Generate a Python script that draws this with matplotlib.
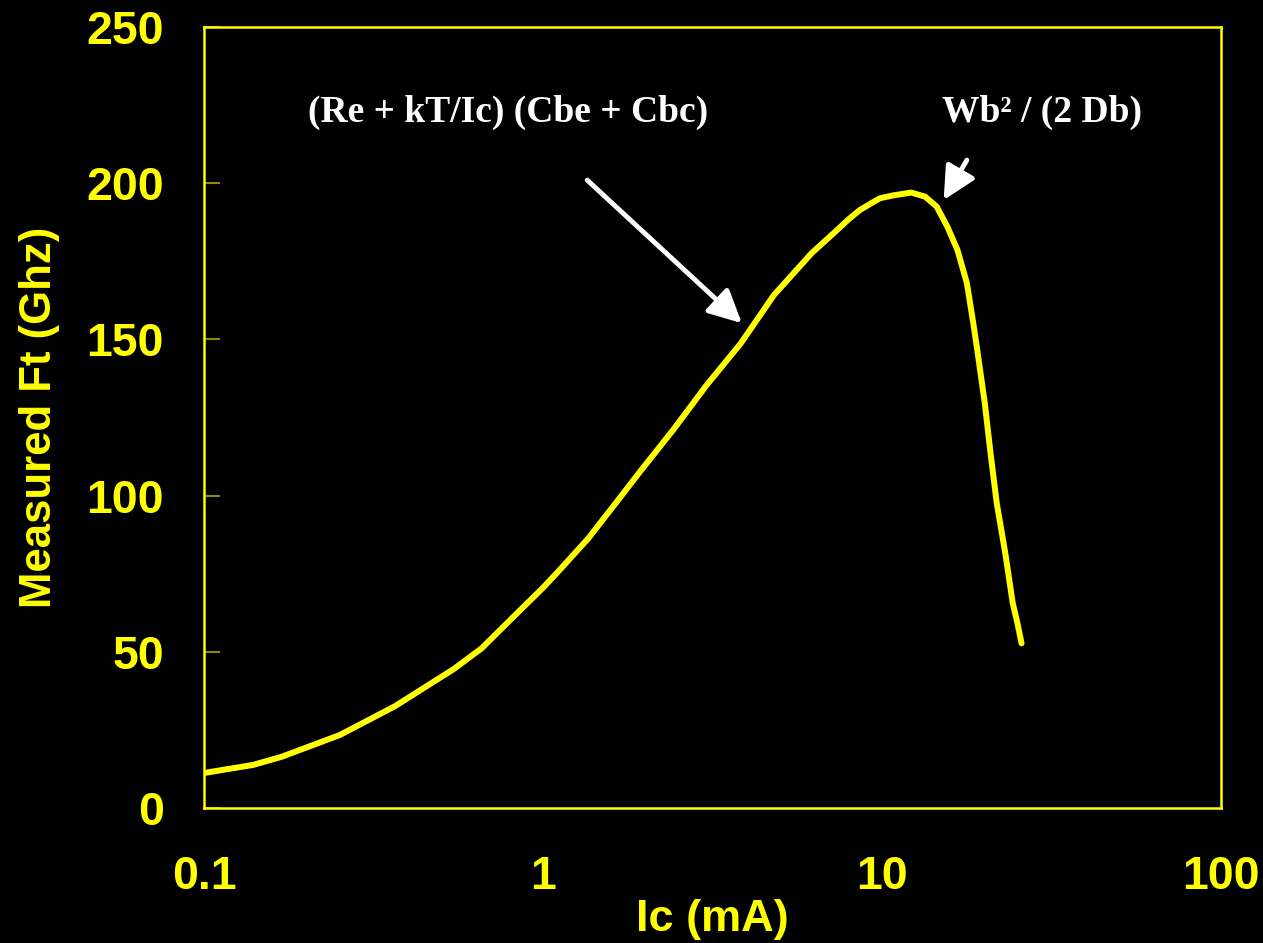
import matplotlib
matplotlib.use("Agg")
import matplotlib.pyplot as plt

# Data
ic_ma = [0.1, 0.1397, 0.1695, 0.252, 0.366, 0.544, 0.659, 0.782, 1.0, 1.12,
         1.36, 1.65, 1.95, 2.42, 3.03, 3.83, 4.8, 6.2, 7.2, 8.0, 8.6, 9.3,
         9.87, 10.8, 12.2, 13.4, 14.5, 15.6, 16.7, 17.8, 18.6, 19.1, 20.1,
         20.9, 21.8, 23.1, 24.3, 25.1, 25.8]
ft_ghz = [11.2, 13.8, 16.4, 23.4, 32.6, 44.4, 51.1, 59.1, 70.5, 76.2,
          86.3, 98.0, 108.2, 121.0, 135.2, 148.7, 164.2, 177.6, 184.0, 188.6,
          191.4, 193.6, 195.2, 196.1, 197.0, 195.7, 192.5, 186.0, 178.6, 168.0,
          155.0, 146.6, 129.6, 113.6, 97.6, 81.6, 65.6, 59.1, 52.7]

x_ticks = [0.1, 1, 10, 100]
x_tick_labels = ["0.1", "1", "10", "100"]
y_ticks = [0, 50, 100, 150, 200, 250]
y_tick_labels = ["0", "50", "100", "150", "200", "250"]

ann1_text = "(Re + kT/Ic) (Cbe + Cbc)"
ann1_xy = (3.86, 155.2)
ann1_from = (1.35, 201.0)
ann2_text = "Wb\u00b2 / (2 Db)"
ann2_xy = (15.2, 194.6)
ann2_from = (17.8, 207.4)

YEL = "#ffff00"
TICKC = "#8c8c00"

fig = plt.figure(figsize=(12.63, 9.43), dpi=100, facecolor="black")
ax = fig.add_axes([204 / 1263, 1 - 808 / 943, (1221 - 204) / 1263, (808 - 27) / 943])
ax.set_facecolor("black")

ax.plot(ic_ma, ft_ghz, color=YEL, lw=4.3, solid_capstyle="round", solid_joinstyle="round")

ax.set_xscale("log")
ax.set_xlim(0.1, 100)
ax.set_ylim(0, 250)
ax.set_xticks(x_ticks)
ax.set_xticklabels(x_tick_labels)
ax.set_yticks(y_ticks)
ax.set_yticklabels(y_tick_labels)
ax.minorticks_off()

font = "Liberation Sans"
for lab in ax.get_xticklabels() + ax.get_yticklabels():
    lab.set_fontfamily(font)
    lab.set_fontweight("bold")
    lab.set_fontsize(33.5)
    lab.set_color(YEL)

ax.tick_params(axis="y", direction="in", length=11.5, width=1.5, color=TICKC, pad=29)
ax.tick_params(axis="x", direction="in", length=0, pad=34)

for sp in ax.spines.values():
    sp.set_color(YEL)
    sp.set_linewidth(1.8)

ax.set_xlabel("Ic (mA)", fontfamily=font, fontweight="bold", fontsize=32.5, color=YEL, labelpad=0)
ax.set_ylabel("Measured Ft (Ghz)", fontfamily=font, fontweight="bold", fontsize=31.5, color=YEL, labelpad=19)

serif = "Liberation Serif"
ax.text(508 / 1263, 1 - 112 / 943, ann1_text, transform=fig.transFigure, ha="center", va="center",
        fontfamily=serif, fontweight="bold", fontsize=27, color="white")
ax.text(1042 / 1263, 1 - 112 / 943, ann2_text, transform=fig.transFigure, ha="center", va="center",
        fontfamily=serif, fontweight="bold", fontsize=27, color="white")

arrow_kw = dict(arrowstyle="-|>,head_length=1.0,head_width=0.5", color="white", lw=3.5,
                shrinkA=0, shrinkB=0, mutation_scale=20)
ax.annotate("", xy=ann1_xy, xytext=ann1_from, arrowprops=arrow_kw)
ax.annotate("", xy=ann2_xy, xytext=ann2_from, arrowprops=arrow_kw)

fig.savefig("out.png", dpi=100, facecolor="black")
